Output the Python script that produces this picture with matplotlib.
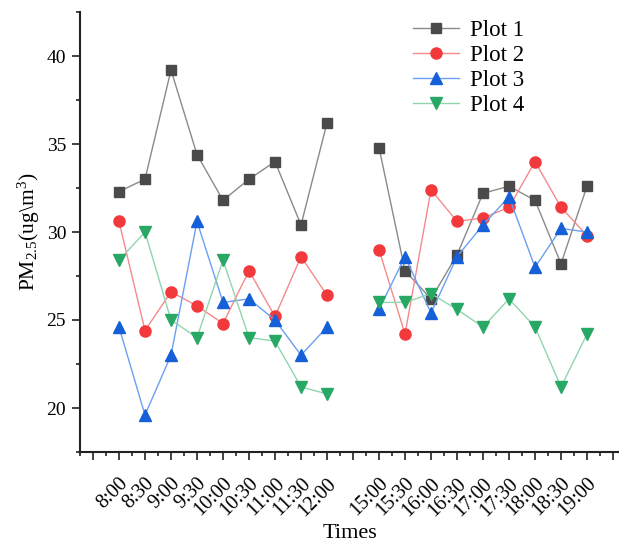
import matplotlib
matplotlib.use("Agg")
import matplotlib.pyplot as plt
import numpy as np
from matplotlib.ticker import MultipleLocator

times_am = ["8:00", "8:30", "9:00", "9:30", "10:00", "10:30", "11:00", "11:30", "12:00"]
times_pm = ["15:00", "15:30", "16:00", "16:30", "17:00", "17:30", "18:00", "18:30", "19:00"]

plot1_am = [32.3, 33.0, 39.2, 34.4, 31.8, 33.0, 34.0, 30.4, 36.2]
plot1_pm = [34.8, 27.8, 26.2, 28.7, 32.2, 32.6, 31.8, 28.2, 32.6]
plot2_am = [30.6, 24.4, 26.6, 25.8, 24.8, 27.8, 25.2, 28.6, 26.4]
plot2_pm = [29.0, 24.2, 32.4, 30.6, 30.8, 31.4, 34.0, 31.4, 29.8]
plot3_am = [24.6, 19.6, 23.0, 30.6, 26.0, 26.2, 25.0, 23.0, 24.6]
plot3_pm = [25.6, 28.6, 25.4, 28.6, 30.4, 32.0, 28.0, 30.2, 30.0]
plot4_am = [28.4, 30.0, 25.0, 24.0, 28.4, 24.0, 23.8, 21.2, 20.8]
plot4_pm = [26.0, 26.0, 26.5, 25.6, 24.6, 26.2, 24.6, 21.2, 24.2]

series_names = ["Plot 1", "Plot 2", "Plot 3", "Plot 4"]

plt.rcParams['font.family'] = ['Liberation Serif', 'DejaVu Serif']
plt.rcParams['mathtext.fontset'] = 'custom'
plt.rcParams['mathtext.rm'] = 'Liberation Serif'
plt.rcParams['mathtext.it'] = 'Liberation Serif'

fig = plt.figure(figsize=(6.19, 5.43), dpi=100)
ax = fig.add_axes([80/619, 1-452/543, 1-80/619, (452-12)/543])

x_am = np.arange(len(times_am))
x_pm = np.arange(len(times_pm)) + len(times_am) + 1

styles = [
    dict(color="#8a8a8a", marker="s", mfc="#4a4a4a", mec="#4a4a4a", ms=7),
    dict(color="#f58a8a", marker="o", mfc="#f2393c", mec="#f2393c", ms=8),
    dict(color="#6b9ff0", marker="^", mfc="#1560d8", mec="#1560d8", ms=8),
    dict(color="#8fd6ae", marker="v", mfc="#28a865", mec="#28a865", ms=8),
]
data = [(plot1_am, plot1_pm), (plot2_am, plot2_pm), (plot3_am, plot3_pm), (plot4_am, plot4_pm)]

for name, (am, pm), st in zip(series_names, data, styles):
    ax.plot(x_am, am, lw=1, label=name, **st)
    ax.plot(x_pm, pm, lw=1, **st)

ax.set_xlim(-1.5, 19.23)
ax.set_ylim(17.5, 42.5)

all_pos = list(x_am) + list(x_pm)
all_lab = times_am + times_pm
major_pos = np.arange(-1, 20)
labels = []
for p in major_pos:
    if p in all_pos:
        labels.append(all_lab[all_pos.index(p)])
    else:
        labels.append("")
ax.set_xticks(major_pos)
ax.set_xticklabels(labels, rotation=45, ha='right', rotation_mode='anchor', fontsize=14.5)
ax.xaxis.set_minor_locator(MultipleLocator(0.5))

ax.yaxis.set_major_locator(MultipleLocator(5))
ax.yaxis.set_minor_locator(MultipleLocator(2.5))
ax.tick_params(axis='y', labelsize=14)

ax.tick_params(which='major', direction='out', length=6, width=1.2, color='#222222')
ax.tick_params(which='minor', direction='out', length=3, width=1.2, color='#222222')
ax.tick_params(axis='x', which='major', pad=10)
ax.tick_params(axis='y', which='major', pad=4)

for s in ['top', 'right']:
    ax.spines[s].set_visible(False)
for s in ['left', 'bottom']:
    ax.spines[s].set_linewidth(1.5)
    ax.spines[s].set_color('#222222')

ax.set_xlabel("Times", fontsize=16, labelpad=3)
ax.set_ylabel("PM$_{2.5}$(ug\\m$^{3}$)", fontsize=15.5, labelpad=3)

ax.legend(loc='upper left', bbox_to_anchor=(404/619, 1-11/543), bbox_transform=fig.transFigure,
          frameon=False, fontsize=16.5, handlelength=2.0, labelspacing=0.17, handletextpad=0.5,
          borderaxespad=0, borderpad=0.4)

fig.savefig("out.png", dpi=100)
